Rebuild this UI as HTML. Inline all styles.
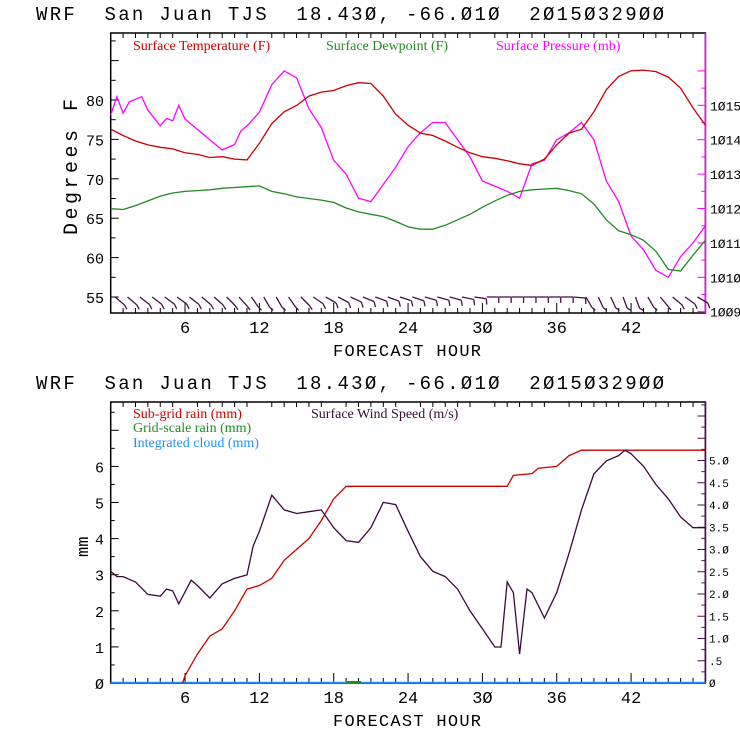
<!DOCTYPE html>
<html><head><meta charset="utf-8"><style>
html,body{margin:0;padding:0;background:#fff;}
svg{display:block;}
text{font-family:"Liberation Mono","DejaVu Sans Mono",monospace;}
.leg{font-family:"Liberation Serif",serif;font-size:14px;}
</style></head><body>
<svg id="chart" width="740" height="740" viewBox="0 0 740 740"></svg>
<script>
const hours=[];for(let i=0;i<=48;i++)hours.push(i);
const tempF=[76.3,75.5,74.8,74.3,74.0,73.8,73.3,73.1,72.7,72.8,72.5,72.4,74.5,77,78.5,79.3,80.5,81,81.2,81.8,82.2,82.1,80.5,78.2,76.8,75.8,75.5,74.8,74,73.3,72.8,72.6,72.3,71.9,71.7,72.5,74.3,75.8,76.3,78.5,81.3,83,83.7,83.8,83.6,82.9,81.5,79,76.8];
const dewF=[66.2,66.1,66.6,67.2,67.8,68.2,68.4,68.5,68.6,68.8,68.9,69,69.1,68.4,68.1,67.7,67.5,67.3,67,66.3,65.8,65.5,65.2,64.6,63.9,63.6,63.6,64.1,64.8,65.5,66.4,67.2,67.9,68.4,68.6,68.7,68.8,68.5,68.1,66.8,64.8,63.4,62.9,62.2,60.8,58.5,58.3,60.3,62.2];
const presHours=[0,0.5,1,1.5,2.5,3,4,4.5,5,5.5,6,7,8,9,10,10.5,11,12,13,14,15,16,17,18,19,20,21,22,23,24,25,26,27,28,29,30,31,32,33,34,35,36,37,38,39,40,41,42,43,44,45,46,47,48];
const presMb=[1014.72,1015.25,1014.77,1015.1,1015.25,1014.86,1014.4,1014.62,1014.55,1015.0,1014.6,1014.3,1014.0,1013.7,1013.86,1014.25,1014.4,1014.8,1015.6,1016.0,1015.8,1014.9,1014.35,1013.4,1013.0,1012.3,1012.2,1012.7,1013.2,1013.8,1014.2,1014.5,1014.5,1014.0,1013.5,1012.8,1012.65,1012.5,1012.3,1013.3,1013.4,1014.0,1014.2,1014.5,1014.0,1012.8,1012.2,1011.2,1010.8,1010.2,1010.0,1010.6,1011.0,1011.5];
const barbAngle=[40,40,40,38,38,36,36,38,40,42,45,48,55,60,60,55,45,35,30,28,25,22,20,20,18,18,16,15,15,12,8,0,0,0,0,0,0,0,5,60,65,65,70,70,60,50,40,35,30];
const rainHours=[5.8,6,7,8,9,10,11,12,13,14,15,16,17,18,19,32,32.5,34,34.5,36,37,38,48];
const rainMm=[0,0.2,0.8,1.3,1.5,2.0,2.6,2.7,2.9,3.4,3.7,4.0,4.5,5.1,5.45,5.45,5.75,5.8,5.95,6.0,6.3,6.45,6.45];
const windHours=[0,0.5,1,2,3,4,4.5,5,5.5,6.5,7,8,9,10,11,11.5,12,13,14,15,16,17,18,19,20,21,22,23,24,25,26,27,28,29,30,31,31.5,32,32.5,33,33.6,34,35,36,37,38,39,40,41,41.5,42,43,44,45,46,47,48];
const windMs=[2.51,2.39,2.39,2.27,1.99,1.95,2.11,2.07,1.78,2.31,2.19,1.91,2.23,2.35,2.43,3.08,3.41,4.22,3.89,3.81,3.85,3.89,3.49,3.2,3.16,3.49,4.06,4.01,3.41,2.84,2.51,2.39,2.11,1.62,1.22,0.81,0.81,2.27,2.03,0.65,2.11,2.03,1.46,2.03,2.92,3.89,4.7,4.99,5.11,5.23,5.15,4.87,4.46,4.14,3.73,3.49,3.49];
const xTicks=[6,12,18,24,30,36,42];
const tempTicks=[55,60,65,70,75,80];
const presTicks=[1009,1010,1011,1012,1013,1014,1015];
const mmTicks=[0,1,2,3,4,5,6];
const wsTicks=["0",".5","1.0","1.5","2.0","2.5","3.0","3.5","4.0","4.5","5.0"];

const S=document.getElementById('chart');const NS='http://www.w3.org/2000/svg';
function mk(t,a,p){const e=document.createElementNS(NS,t);for(const k in a)e.setAttribute(k,a[k]);(p||S).appendChild(e);return e;}
const X0=110.7,XS=12.39;const x=h=>X0+h*XS;
const yT=v=>100+(80-v)*7.88, yP=p=>311.7-(p-1009)*34.4;
const B0=683, yM=m=>B0-m*36.1, yW=v=>B0-v*44.5;
function poly(xs,ys,fx,fy,col,name,g){const pts=xs.map((h,i)=>fx(h).toFixed(1)+','+fy(ys[i]).toFixed(1)).join(' ');const e=mk('polyline',{points:pts,fill:'none',stroke:col,'stroke-width':1.3},g);return e;}
function txt(s,a,name,g){const e=mk('text',a,g);e.textContent=s;return e;}

function panel(top,bot,rightCol,name){
  const g=mk('g',{});
  txt('WRF\u00a0\u00a0San Juan TJS\u00a0\u00a018.43Ø, -66.Ø1Ø\u00a0\u00a02Ø15Ø329ØØ',{x:36,y:top-13,'font-size':19,fill:'#000',textLength:628,lengthAdjust:'spacing'},'chart-title',g);
  mk('rect',{x:110.7,y:top,width:594.7,height:bot-top,fill:'none',stroke:'#000','stroke-width':1.5},g);
  mk('line',{x1:705.4,y1:top,x2:705.4,y2:bot,stroke:rightCol,'stroke-width':1.5},g);
  for(let h=1;h<48;h++){const big=h%6==0;mk('line',{x1:x(h),y1:bot,x2:x(h),y2:bot-(big?10:5),stroke:'#000'},g);mk('line',{x1:x(h),y1:top,x2:x(h),y2:top+(big?0:5),stroke:'#000'},g);}
  xTicks.forEach(h=>txt(String(h).replace(/0/g,'Ø'),{x:x(h),y:bot+20,'font-size':17,'text-anchor':'middle'},'x-tick-label',g));
  txt('FORECAST HOUR',{x:333,y:bot+43,'font-size':17,textLength:148,lengthAdjust:'spacing'},'x-axis-title',g);
  return g;
}
const g1=panel(33,313,'#ff00ff','temperature-panel');
for(let v=52.5;v<=87.5;v+=2.5){const yy=yT(v);if(yy>33&&yy<313)mk('line',{x1:110.7,y1:yy,x2:110.7+(v%5==0?8:5),y2:yy,stroke:'#000'},g1);}
tempTicks.forEach(v=>txt(String(v),{x:104,y:yT(v)+6,'font-size':15,'text-anchor':'end'},'y-tick-label',g1));
for(let p=1009;p<=1016;p+=0.5){const yy=yP(p);if(yy>33&&yy<314)mk('line',{x1:705.4,y1:yy,x2:705.4-(p%1==0?8:4),y2:yy,stroke:'#ff00ff'},g1);}
presTicks.forEach(p=>txt(String(p).replace(/0/g,'Ø'),{x:710,y:yP(p)+5,'font-size':13},'y2-tick-label',g1));
txt('Degrees F',{x:0,y:0,'font-size':20,textLength:136,lengthAdjust:'spacing',transform:'translate(77,235) rotate(-90)'},'y-axis-title',g1);
txt('Surface Temperature (F)',{x:133,y:50,class:'leg',fill:'#cc0000'},'legend-temperature',g1);
txt('Surface Dewpoint (F)',{x:326,y:50,class:'leg',fill:'#228b22'},'legend-dewpoint',g1);
txt('Surface Pressure (mb)',{x:496,y:50,class:'leg',fill:'#ff00ff'},'legend-pressure',g1);
poly(presHours,presMb,x,yP,'#ff00ff','pressure-line',g1);
poly(hours,dewF,x,yT,'#228b22','dewpoint-line',g1);
poly(hours,tempF,x,yT,'#cc0000','temperature-line',g1);
barbAngle.forEach((a,i)=>{if(i==0)return;const bx=x(i)-8,by=297,r=a*Math.PI/180;const ex=bx+12*Math.cos(r),ey=by+12*Math.sin(r);
 const l=mk('line',{x1:bx,y1:by,x2:ex,y2:ey,stroke:'#4b0f4b','stroke-width':1.3},g1);
 mk('line',{x1:ex,y1:ey,x2:ex-4*Math.sin(r)*-1,y2:ey+6*Math.cos(r),stroke:'#4b0f4b','stroke-width':1.3},g1);});

const g2=panel(402,683,'#4b0f4b','rain-panel');
for(let m=0.5;m<=8;m+=0.5){const yy=yM(m);if(yy>402)mk('line',{x1:110.7,y1:yy,x2:110.7+(m%1==0?8:4),y2:yy,stroke:'#000'},g2);}
mmTicks.forEach(m=>txt(String(m).replace(/0/g,'Ø'),{x:104,y:yM(m)+6,'font-size':15,'text-anchor':'end'},'y-tick-label',g2));
for(let v=0.25;v<=6.25;v+=0.25){const yy=yW(v);if(yy>402)mk('line',{x1:705.4,y1:yy,x2:705.4-(v%0.5==0?8:4),y2:yy,stroke:'#4b0f4b'},g2);}
wsTicks.forEach((s,i)=>txt(s.replace(/0/g,'Ø'),{x:709,y:yW(i*0.5)+4,'font-size':11},'y2-tick-label',g2));
txt('mm',{x:0,y:0,'font-size':17,transform:'translate(88,557) rotate(-90)'},'y-axis-title',g2);
txt('Sub-grid rain (mm)',{x:133,y:418,class:'leg',fill:'#cc0000'},'legend-subgrid-rain',g2);
txt('Surface Wind Speed (m/s)',{x:311,y:418,class:'leg',fill:'#3b0a3b'},'legend-wind-speed',g2);
txt('Grid-scale rain (mm)',{x:133,y:432,class:'leg',fill:'#228b22'},'legend-gridscale-rain',g2);
txt('Integrated cloud (mm)',{x:133,y:447,class:'leg',fill:'#1e90ff'},'legend-cloud',g2);
const cl=mk('line',{x1:110.7,y1:682.5,x2:705.4,y2:682.5,stroke:'#1e90ff','stroke-width':1.5},g2);
mk('line',{x1:x(19),y1:682,x2:x(20.2),y2:682,stroke:'#228b22','stroke-width':2},g2);
poly(rainHours,rainMm,x,yM,'#cc0000','subgrid-rain-line',g2);
poly(windHours,windMs,x,yW,'#3b0a3b','wind-speed-line',g2);
</script>
</body></html>
